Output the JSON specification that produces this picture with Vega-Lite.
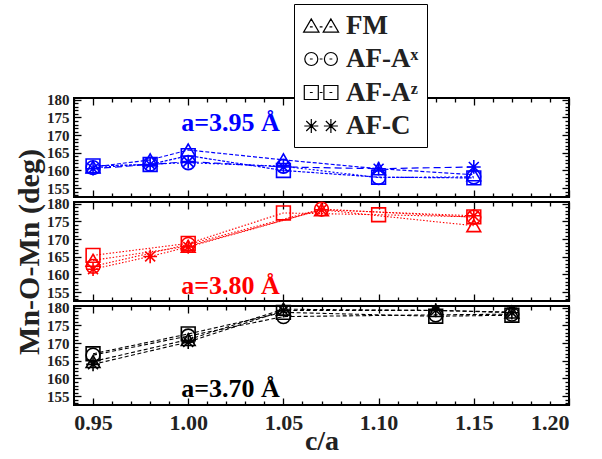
{
  "$schema": "https://vega.github.io/schema/vega-lite/v6.json",
  "background": "white",
  "padding": {"left": 13, "top": 3, "right": 5, "bottom": 5},
  "data": {
    "values": [
      {"a": "3.95", "series": "FM", "ca": 0.95, "angle": 161.0},
      {"a": "3.95", "series": "FM", "ca": 0.98, "angle": 163.0},
      {"a": "3.95", "series": "FM", "ca": 1.00, "angle": 165.8},
      {"a": "3.95", "series": "FM", "ca": 1.05, "angle": 163.0},
      {"a": "3.95", "series": "FM", "ca": 1.10, "angle": 160.5},
      {"a": "3.95", "series": "FM", "ca": 1.15, "angle": 158.8},
      {"a": "3.95", "series": "AF-Ax", "ca": 0.95, "angle": 160.8},
      {"a": "3.95", "series": "AF-Ax", "ca": 0.98, "angle": 161.8},
      {"a": "3.95", "series": "AF-Ax", "ca": 1.00, "angle": 162.2},
      {"a": "3.95", "series": "AF-Ax", "ca": 1.05, "angle": 161.2},
      {"a": "3.95", "series": "AF-Ax", "ca": 1.10, "angle": 158.0},
      {"a": "3.95", "series": "AF-Ax", "ca": 1.15, "angle": 158.2},
      {"a": "3.95", "series": "AF-Az", "ca": 0.95, "angle": 161.3},
      {"a": "3.95", "series": "AF-Az", "ca": 0.98, "angle": 161.7},
      {"a": "3.95", "series": "AF-Az", "ca": 1.00, "angle": 164.2},
      {"a": "3.95", "series": "AF-Az", "ca": 1.05, "angle": 160.0},
      {"a": "3.95", "series": "AF-Az", "ca": 1.10, "angle": 158.1},
      {"a": "3.95", "series": "AF-Az", "ca": 1.15, "angle": 157.9},
      {"a": "3.95", "series": "AF-C", "ca": 0.95, "angle": 160.5},
      {"a": "3.95", "series": "AF-C", "ca": 0.98, "angle": 161.7},
      {"a": "3.95", "series": "AF-C", "ca": 1.00, "angle": 162.5},
      {"a": "3.95", "series": "AF-C", "ca": 1.05, "angle": 161.0},
      {"a": "3.95", "series": "AF-C", "ca": 1.10, "angle": 160.5},
      {"a": "3.95", "series": "AF-C", "ca": 1.15, "angle": 161.0},
      {"a": "3.80", "series": "FM", "ca": 0.95, "angle": 164.0},
      {"a": "3.80", "series": "FM", "ca": 1.00, "angle": 168.0},
      {"a": "3.80", "series": "FM", "ca": 1.07, "angle": 178.3},
      {"a": "3.80", "series": "FM", "ca": 1.15, "angle": 173.8},
      {"a": "3.80", "series": "AF-Ax", "ca": 0.95, "angle": 162.3},
      {"a": "3.80", "series": "AF-Ax", "ca": 1.00, "angle": 168.5},
      {"a": "3.80", "series": "AF-Ax", "ca": 1.07, "angle": 178.5},
      {"a": "3.80", "series": "AF-Ax", "ca": 1.15, "angle": 176.2},
      {"a": "3.80", "series": "AF-Az", "ca": 0.95, "angle": 165.4},
      {"a": "3.80", "series": "AF-Az", "ca": 1.00, "angle": 168.8},
      {"a": "3.80", "series": "AF-Az", "ca": 1.05, "angle": 177.4},
      {"a": "3.80", "series": "AF-Az", "ca": 1.10, "angle": 176.9},
      {"a": "3.80", "series": "AF-Az", "ca": 1.15, "angle": 176.3},
      {"a": "3.80", "series": "AF-C", "ca": 0.95, "angle": 161.5},
      {"a": "3.80", "series": "AF-C", "ca": 0.98, "angle": 165.1},
      {"a": "3.80", "series": "AF-C", "ca": 1.00, "angle": 167.8},
      {"a": "3.80", "series": "AF-C", "ca": 1.07, "angle": 178.3},
      {"a": "3.80", "series": "AF-C", "ca": 1.15, "angle": 176.6},
      {"a": "3.70", "series": "FM", "ca": 0.95, "angle": 164.8},
      {"a": "3.70", "series": "FM", "ca": 1.00, "angle": 171.0},
      {"a": "3.70", "series": "FM", "ca": 1.05, "angle": 179.6},
      {"a": "3.70", "series": "FM", "ca": 1.13, "angle": 179.2},
      {"a": "3.70", "series": "FM", "ca": 1.17, "angle": 178.8},
      {"a": "3.70", "series": "AF-Ax", "ca": 0.95, "angle": 166.6},
      {"a": "3.70", "series": "AF-Ax", "ca": 1.00, "angle": 172.0},
      {"a": "3.70", "series": "AF-Ax", "ca": 1.05, "angle": 177.5},
      {"a": "3.70", "series": "AF-Ax", "ca": 1.13, "angle": 178.0},
      {"a": "3.70", "series": "AF-Ax", "ca": 1.17, "angle": 178.2},
      {"a": "3.70", "series": "AF-Az", "ca": 0.95, "angle": 167.0},
      {"a": "3.70", "series": "AF-Az", "ca": 1.00, "angle": 172.6},
      {"a": "3.70", "series": "AF-Az", "ca": 1.05, "angle": 178.7},
      {"a": "3.70", "series": "AF-Az", "ca": 1.13, "angle": 177.6},
      {"a": "3.70", "series": "AF-Az", "ca": 1.17, "angle": 177.9},
      {"a": "3.70", "series": "AF-C", "ca": 0.95, "angle": 164.0},
      {"a": "3.70", "series": "AF-C", "ca": 1.00, "angle": 170.3},
      {"a": "3.70", "series": "AF-C", "ca": 1.05, "angle": 179.2},
      {"a": "3.70", "series": "AF-C", "ca": 1.13, "angle": 179.3},
      {"a": "3.70", "series": "AF-C", "ca": 1.17, "angle": 178.6}
    ]
  },
  "bounds": "flush",
  "spacing": 5,
  "vconcat": [
    {
      "width": 495,
      "height": 99,
      "layer": [
        {
          "transform": [{"filter": "datum.a === '3.95' && datum.series === 'FM'"}],
          "mark": {"type": "line", "color": "#0000ff", "strokeWidth": 1.2, "strokeDash": [4, 2]},
          "encoding": {
            "x": {"field": "ca", "type": "quantitative", "scale": {"domain": [0.94, 1.2], "nice": false, "zero": false},
                  "axis": {"orient": "bottom", "values": [0.95, 1, 1.05, 1.1, 1.15, 1.2], "tickSize": -7, "labels": false, "title": null}},
            "y": {"field": "angle", "type": "quantitative", "scale": {"domain": [152.5, 180.5], "nice": false, "zero": false},
                  "axis": {"orient": "left", "values": [155, 160, 165, 170, 175, 180], "tickSize": -7, "labelPadding": 12, "labelFontSize": 15, "title": null}}
          }
        },
        {
          "transform": [{"filter": "datum.a === '3.95' && datum.series === 'AF-Ax'"}],
          "mark": {"type": "line", "color": "#0000ff", "strokeWidth": 1.2, "strokeDash": [2, 2]},
          "encoding": {
            "x": {"field": "ca", "type": "quantitative", "axis": null},
            "y": {"field": "angle", "type": "quantitative", "axis": null}
          }
        },
        {
          "transform": [{"filter": "datum.a === '3.95' && datum.series === 'AF-Az'"}],
          "mark": {"type": "line", "color": "#0000ff", "strokeWidth": 1.2, "strokeDash": [3, 1.5]},
          "encoding": {
            "x": {"field": "ca", "type": "quantitative", "axis": null},
            "y": {"field": "angle", "type": "quantitative", "axis": null}
          }
        },
        {
          "transform": [{"filter": "datum.a === '3.95' && datum.series === 'AF-C'"}],
          "mark": {"type": "line", "color": "#0000ff", "strokeWidth": 1.2, "strokeDash": [7, 4]},
          "encoding": {
            "x": {"field": "ca", "type": "quantitative", "axis": null},
            "y": {"field": "angle", "type": "quantitative", "axis": null}
          }
        },
        {
          "transform": [{"filter": "datum.a === '3.95' && datum.series === 'FM'"}],
          "mark": {"type": "point", "shape": "triangle-up", "filled": false, "color": "#0000ff", "strokeWidth": 1.6, "size": 190, "opacity": 1},
          "encoding": {
            "x": {"field": "ca", "type": "quantitative",
                  "axis": {"orient": "bottom", "values": [0.94, 0.96, 0.97, 0.98, 0.99, 1.01, 1.02, 1.03, 1.04, 1.06, 1.07, 1.08, 1.09, 1.11, 1.12, 1.13, 1.14, 1.16, 1.17, 1.18, 1.19], "tickSize": -4, "labels": false, "title": null}},
            "y": {"field": "angle", "type": "quantitative",
                  "axis": {"orient": "left", "values": [153, 154, 156, 157, 158, 159, 161, 162, 163, 164, 166, 167, 168, 169, 171, 172, 173, 174, 176, 177, 178, 179], "tickSize": -4, "labels": false, "title": null}}
          }
        },
        {
          "transform": [{"filter": "datum.a === '3.95' && datum.series === 'AF-Ax'"}],
          "mark": {"type": "point", "shape": "circle", "filled": false, "color": "#0000ff", "strokeWidth": 1.6, "size": 190, "opacity": 1},
          "encoding": {
            "x": {"field": "ca", "type": "quantitative",
                  "axis": {"orient": "top", "values": [0.95, 1, 1.05, 1.1, 1.15, 1.2], "tickSize": -7, "labels": false, "title": null}},
            "y": {"field": "angle", "type": "quantitative",
                  "axis": {"orient": "right", "values": [155, 160, 165, 170, 175, 180], "tickSize": -7, "labels": false, "title": null}}
          }
        },
        {
          "transform": [{"filter": "datum.a === '3.95' && datum.series === 'AF-Az'"}],
          "mark": {"type": "point", "shape": "square", "filled": false, "color": "#0000ff", "strokeWidth": 1.6, "size": 190, "opacity": 1},
          "encoding": {
            "x": {"field": "ca", "type": "quantitative",
                  "axis": {"orient": "top", "values": [0.94, 0.96, 0.97, 0.98, 0.99, 1.01, 1.02, 1.03, 1.04, 1.06, 1.07, 1.08, 1.09, 1.11, 1.12, 1.13, 1.14, 1.16, 1.17, 1.18, 1.19], "tickSize": -4, "labels": false, "title": null}},
            "y": {"field": "angle", "type": "quantitative",
                  "axis": {"orient": "right", "values": [153, 154, 156, 157, 158, 159, 161, 162, 163, 164, 166, 167, 168, 169, 171, 172, 173, 174, 176, 177, 178, 179], "tickSize": -4, "labels": false, "title": null}}
          }
        },
        {
          "transform": [{"filter": "datum.a === '3.95' && datum.series === 'AF-C'"}],
          "mark": {"type": "point", "shape": "M-1,0H1M0,-1V1M-0.72,-0.72L0.72,0.72M-0.72,0.72L0.72,-0.72", "filled": false, "color": "#0000ff", "strokeWidth": 1.6, "size": 190, "opacity": 1},
          "encoding": {
            "x": {"field": "ca", "type": "quantitative", "axis": null},
            "y": {"field": "angle", "type": "quantitative", "axis": null}
          }
        },
        {
          "data": {"values": [{}]},
          "mark": {"type": "text", "color": "#0000ff", "font": "Liberation Serif", "fontWeight": "bold", "fontSize": 26, "align": "left", "baseline": "alphabetic"},
          "encoding": {
            "x": {"datum": 0.9963, "type": "quantitative", "axis": null},
            "y": {"datum": 171.2, "type": "quantitative", "axis": null},
            "text": {"value": "a=3.95 Å"}
          }
        },
        {
          "transform": [{"filter": "false"}],
          "mark": {"type": "point", "filled": false, "color": "#000000", "strokeWidth": 1.2},
          "encoding": {
            "x": {"field": "ca", "type": "quantitative", "axis": null},
            "y": {"field": "angle", "type": "quantitative", "axis": null},
            "shape": {"field": "series", "type": "nominal",
                      "scale": {"domain": ["FM", "AF-Ax", "AF-Az", "AF-C"],
                                "range": [
                                  "M-0.6,-0.95L-1.7,0.95L0.5,0.95ZM2.2,-0.95L1.1,0.95L3.3,0.95ZM-0.8,0.2H-0.4M0.6,0.2H1.0M2.0,0.2H2.4",
                                  "M0.33,0A0.93,0.93,0,1,1,-1.53,0A0.93,0.93,0,1,1,0.33,0ZM3.13,0A0.93,0.93,0,1,1,1.27,0A0.93,0.93,0,1,1,3.13,0ZM-0.8,0H-0.4M0.6,0H1.0M2.0,0H2.4",
                                  "M-1.6,-1H0.4V1H-1.6ZM1.2,-1H3.2V1H1.2ZM-0.8,0H-0.4M0.6,0H1.0M2.0,0H2.4",
                                  "M-1.6,0H0.4M-0.6,-1V1M-1.32,-0.72L0.12,0.72M-1.32,0.72L0.12,-0.72M1.2,0H3.2M2.2,-1V1M1.48,-0.72L2.92,0.72M1.48,0.72L2.92,-0.72"
                                ]},
                      "legend": {
                        "title": null,
                        "orient": "none",
                        "legendX": 220,
                        "legendY": -94,
                        "padding": 8,
                        "fillColor": "#ffffff",
                        "strokeColor": "#000000",
                        "symbolSize": 196,
                        "symbolStrokeWidth": 1.2,
                        "symbolStrokeColor": "#000000",
                        "symbolFillColor": "transparent",
                        "symbolOpacity": 1,
                        "labelOffset": 17,
                        "rowPadding": 5.5,
                        "labelFont": "Liberation Serif",
                        "labelFontWeight": "bold",
                        "labelFontSize": 27,
                        "labelColor": "#222222",
                        "labelExpr": "datum.label === 'AF-Ax' ? 'AF-Aˣ' : datum.label === 'AF-Az' ? 'AF-Aᶻ' : datum.label"
                      }}
          }
        }
      ],
      "resolve": {"axis": {"x": "independent", "y": "independent"}}
    },
    {
      "width": 495,
      "height": 99,
      "layer": [
        {
          "transform": [{"filter": "datum.a === '3.80'"}],
          "mark": {"type": "line", "color": "#ff0000", "strokeWidth": 1.1, "strokeDash": [1.5, 1.8]},
          "encoding": {
            "x": {"field": "ca", "type": "quantitative", "scale": {"domain": [0.94, 1.2], "nice": false, "zero": false},
                  "axis": {"orient": "bottom", "values": [0.95, 1, 1.05, 1.1, 1.15, 1.2], "tickSize": -7, "labels": false, "title": null}},
            "y": {"field": "angle", "type": "quantitative", "scale": {"domain": [152.5, 180.5], "nice": false, "zero": false},
                  "axis": {"orient": "left", "values": [155, 160, 165, 170, 175, 180], "tickSize": -7, "labelPadding": 12, "labelFontSize": 15, "title": "Mn-O-Mn (deg)", "titleFontSize": 30, "titlePadding": 2}},
            "detail": {"field": "series", "type": "nominal"}
          }
        },
        {
          "transform": [{"filter": "datum.a === '3.80' && datum.series === 'FM'"}],
          "mark": {"type": "point", "shape": "triangle-up", "filled": false, "color": "#ff0000", "strokeWidth": 1.6, "size": 190, "opacity": 1},
          "encoding": {
            "x": {"field": "ca", "type": "quantitative",
                  "axis": {"orient": "bottom", "values": [0.94, 0.96, 0.97, 0.98, 0.99, 1.01, 1.02, 1.03, 1.04, 1.06, 1.07, 1.08, 1.09, 1.11, 1.12, 1.13, 1.14, 1.16, 1.17, 1.18, 1.19], "tickSize": -4, "labels": false, "title": null}},
            "y": {"field": "angle", "type": "quantitative",
                  "axis": {"orient": "left", "values": [153, 154, 156, 157, 158, 159, 161, 162, 163, 164, 166, 167, 168, 169, 171, 172, 173, 174, 176, 177, 178, 179], "tickSize": -4, "labels": false, "title": null}}
          }
        },
        {
          "transform": [{"filter": "datum.a === '3.80' && datum.series === 'AF-Ax'"}],
          "mark": {"type": "point", "shape": "circle", "filled": false, "color": "#ff0000", "strokeWidth": 1.6, "size": 190, "opacity": 1},
          "encoding": {
            "x": {"field": "ca", "type": "quantitative",
                  "axis": {"orient": "top", "values": [0.95, 1, 1.05, 1.1, 1.15, 1.2], "tickSize": -7, "labels": false, "title": null}},
            "y": {"field": "angle", "type": "quantitative",
                  "axis": {"orient": "right", "values": [155, 160, 165, 170, 175, 180], "tickSize": -7, "labels": false, "title": null}}
          }
        },
        {
          "transform": [{"filter": "datum.a === '3.80' && datum.series === 'AF-Az'"}],
          "mark": {"type": "point", "shape": "square", "filled": false, "color": "#ff0000", "strokeWidth": 1.6, "size": 190, "opacity": 1},
          "encoding": {
            "x": {"field": "ca", "type": "quantitative",
                  "axis": {"orient": "top", "values": [0.94, 0.96, 0.97, 0.98, 0.99, 1.01, 1.02, 1.03, 1.04, 1.06, 1.07, 1.08, 1.09, 1.11, 1.12, 1.13, 1.14, 1.16, 1.17, 1.18, 1.19], "tickSize": -4, "labels": false, "title": null}},
            "y": {"field": "angle", "type": "quantitative",
                  "axis": {"orient": "right", "values": [153, 154, 156, 157, 158, 159, 161, 162, 163, 164, 166, 167, 168, 169, 171, 172, 173, 174, 176, 177, 178, 179], "tickSize": -4, "labels": false, "title": null}}
          }
        },
        {
          "transform": [{"filter": "datum.a === '3.80' && datum.series === 'AF-C'"}],
          "mark": {"type": "point", "shape": "M-1,0H1M0,-1V1M-0.72,-0.72L0.72,0.72M-0.72,0.72L0.72,-0.72", "filled": false, "color": "#ff0000", "strokeWidth": 1.6, "size": 190, "opacity": 1},
          "encoding": {
            "x": {"field": "ca", "type": "quantitative", "axis": null},
            "y": {"field": "angle", "type": "quantitative", "axis": null}
          }
        },
        {
          "data": {"values": [{}]},
          "mark": {"type": "text", "color": "#ff0000", "font": "Liberation Serif", "fontWeight": "bold", "fontSize": 26, "align": "left", "baseline": "alphabetic"},
          "encoding": {
            "x": {"datum": 0.9963, "type": "quantitative", "axis": null},
            "y": {"datum": 154.5, "type": "quantitative", "axis": null},
            "text": {"value": "a=3.80 Å"}
          }
        }
      ],
      "resolve": {"axis": {"x": "independent", "y": "independent"}}
    },
    {
      "width": 495,
      "height": 99,
      "layer": [
        {
          "transform": [{"filter": "datum.a === '3.70'"}],
          "mark": {"type": "line", "color": "#000000", "strokeWidth": 1.1, "strokeDash": [4, 2.5]},
          "encoding": {
            "x": {"field": "ca", "type": "quantitative", "scale": {"domain": [0.94, 1.2], "nice": false, "zero": false},
                  "axis": {"orient": "bottom", "values": [0.95, 1, 1.05, 1.1, 1.15, 1.2], "tickSize": -7, "labels": true, "format": ".2f", "labelFontSize": 22, "labelPadding": 14, "title": "c/a", "titlePadding": -6}},
            "y": {"field": "angle", "type": "quantitative", "scale": {"domain": [152.5, 180.5], "nice": false, "zero": false},
                  "axis": {"orient": "left", "values": [155, 160, 165, 170, 175, 180], "tickSize": -7, "labelPadding": 12, "labelFontSize": 15, "title": null}},
            "detail": {"field": "series", "type": "nominal"}
          }
        },
        {
          "transform": [{"filter": "datum.a === '3.70' && datum.series === 'FM'"}],
          "mark": {"type": "point", "shape": "triangle-up", "filled": false, "color": "#000000", "strokeWidth": 1.6, "size": 190, "opacity": 1},
          "encoding": {
            "x": {"field": "ca", "type": "quantitative",
                  "axis": {"orient": "bottom", "values": [0.94, 0.96, 0.97, 0.98, 0.99, 1.01, 1.02, 1.03, 1.04, 1.06, 1.07, 1.08, 1.09, 1.11, 1.12, 1.13, 1.14, 1.16, 1.17, 1.18, 1.19], "tickSize": -4, "labels": false, "title": null}},
            "y": {"field": "angle", "type": "quantitative",
                  "axis": {"orient": "left", "values": [153, 154, 156, 157, 158, 159, 161, 162, 163, 164, 166, 167, 168, 169, 171, 172, 173, 174, 176, 177, 178, 179], "tickSize": -4, "labels": false, "title": null}}
          }
        },
        {
          "transform": [{"filter": "datum.a === '3.70' && datum.series === 'AF-Ax'"}],
          "mark": {"type": "point", "shape": "circle", "filled": false, "color": "#000000", "strokeWidth": 1.6, "size": 190, "opacity": 1},
          "encoding": {
            "x": {"field": "ca", "type": "quantitative",
                  "axis": {"orient": "top", "values": [0.95, 1, 1.05, 1.1, 1.15, 1.2], "tickSize": -7, "labels": false, "title": null}},
            "y": {"field": "angle", "type": "quantitative",
                  "axis": {"orient": "right", "values": [155, 160, 165, 170, 175, 180], "tickSize": -7, "labels": false, "title": null}}
          }
        },
        {
          "transform": [{"filter": "datum.a === '3.70' && datum.series === 'AF-Az'"}],
          "mark": {"type": "point", "shape": "square", "filled": false, "color": "#000000", "strokeWidth": 1.6, "size": 190, "opacity": 1},
          "encoding": {
            "x": {"field": "ca", "type": "quantitative",
                  "axis": {"orient": "top", "values": [0.94, 0.96, 0.97, 0.98, 0.99, 1.01, 1.02, 1.03, 1.04, 1.06, 1.07, 1.08, 1.09, 1.11, 1.12, 1.13, 1.14, 1.16, 1.17, 1.18, 1.19], "tickSize": -4, "labels": false, "title": null}},
            "y": {"field": "angle", "type": "quantitative",
                  "axis": {"orient": "right", "values": [153, 154, 156, 157, 158, 159, 161, 162, 163, 164, 166, 167, 168, 169, 171, 172, 173, 174, 176, 177, 178, 179], "tickSize": -4, "labels": false, "title": null}}
          }
        },
        {
          "transform": [{"filter": "datum.a === '3.70' && datum.series === 'AF-C'"}],
          "mark": {"type": "point", "shape": "M-1,0H1M0,-1V1M-0.72,-0.72L0.72,0.72M-0.72,0.72L0.72,-0.72", "filled": false, "color": "#000000", "strokeWidth": 1.6, "size": 190, "opacity": 1},
          "encoding": {
            "x": {"field": "ca", "type": "quantitative", "axis": null},
            "y": {"field": "angle", "type": "quantitative", "axis": null}
          }
        },
        {
          "data": {"values": [{}]},
          "mark": {"type": "text", "color": "#000000", "font": "Liberation Serif", "fontWeight": "bold", "fontSize": 26, "align": "left", "baseline": "alphabetic"},
          "encoding": {
            "x": {"datum": 0.9963, "type": "quantitative", "axis": null},
            "y": {"datum": 154.85, "type": "quantitative", "axis": null},
            "text": {"value": "a=3.70 Å"}
          }
        }
      ],
      "resolve": {"axis": {"x": "independent", "y": "independent"}}
    }
  ],
  "config": {
    "view": {"stroke": "#000000", "strokeWidth": 2},
    "font": "Liberation Serif",
    "axis": {
      "domain": false,
      "grid": false,
      "tickColor": "#000000",
      "tickWidth": 1.3,
      "labelFont": "Liberation Serif",
      "labelFontWeight": "bold",
      "labelColor": "#222222",
      "titleFont": "Liberation Serif",
      "titleFontWeight": "bold",
      "titleColor": "#222222",
      "titleFontSize": 28
    }
  }
}
